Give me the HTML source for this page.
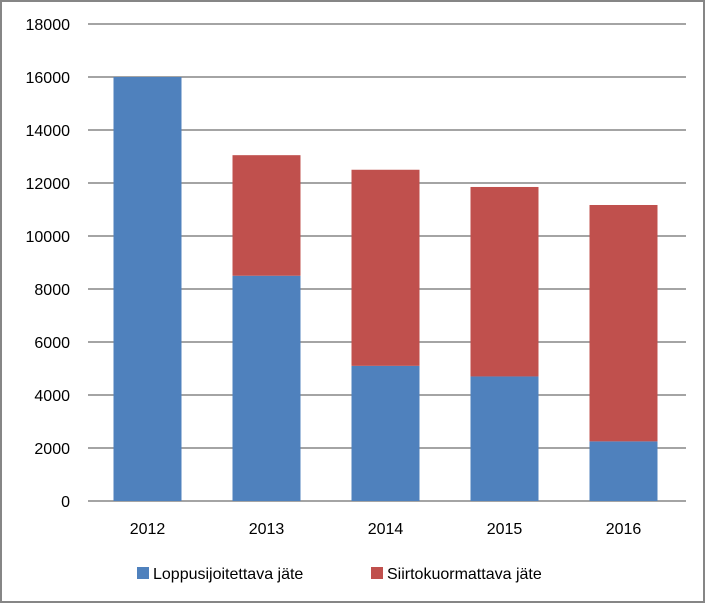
<!DOCTYPE html>
<html><head><meta charset="utf-8"><style>
body{margin:0;background:#fff}
svg{display:block;font-family:"Liberation Sans",Calibri,sans-serif}
</style></head><body>
<svg id="c" width="706" height="604">
<rect x="1" y="1" width="703" height="601" fill="#fff" stroke="#868686" stroke-width="2"/>
<g id="grid"></g><g id="bars"></g><g id="labels"></g>
<g>
<rect x="137" y="567" width="12" height="12" fill="#4f81bd"/>
<text x="153" y="579" font-size="16" fill="#000">Loppusijoitettava jäte</text>
<rect x="371" y="567" width="12" height="12" fill="#c0504d"/>
<text x="387" y="579" font-size="16" fill="#000">Siirtokuormattava jäte</text>
</g>
</svg>
<script>
const categories=["2012","2013","2014","2015","2016"];
const loppusijoitettava=[16000,8500,5100,4700,2250];
const siirtokuormattava=[0,4550,7400,7150,8920];
const yTicks=[0,2000,4000,6000,8000,10000,12000,14000,16000,18000];
const NS="http://www.w3.org/2000/svg";
const x0=88,x1=683,y0=501,y1=24,yMax=18000;
const y=v=>y0-(v/yMax)*(y0-y1);
const bw=(x1-x0)/categories.length;
const xc=i=>x0+bw*(i+0.5);
function mk(t,a,p){const e=document.createElementNS(NS,t);for(const k in a)e.setAttribute(k,a[k]);p.appendChild(e);return e;}
const G=document.getElementById('grid'),B=document.getElementById('bars'),L=document.getElementById('labels');
yTicks.forEach(v=>{
 const l=mk('line',{x1:x0,x2:x1+3,y1:y(v),y2:y(v),stroke:'#868686','stroke-width':1.5},G);
 
 
 const t=mk('text',{x:70,y:y(v)+6,'text-anchor':'end','font-size':16},L);
 t.textContent=v;
 
 
});
const w=68;
categories.forEach((c,i)=>{
 const a=loppusijoitettava[i],b=siirtokuormattava[i];
 const r1=mk('rect',{x:xc(i)-w/2,y:y(a),width:w,height:y(0)-y(a),fill:'#4f81bd'},B);
 
 
 if(b>0){
 const r2=mk('rect',{x:xc(i)-w/2,y:y(a+b),width:w,height:y(a)-y(a+b),fill:'#c0504d'},B);
 
 
 }
 const t=mk('text',{x:xc(i),y:534,'text-anchor':'middle','font-size':16},L);
 t.textContent=c;
 
 
});
</script>
</body></html>
